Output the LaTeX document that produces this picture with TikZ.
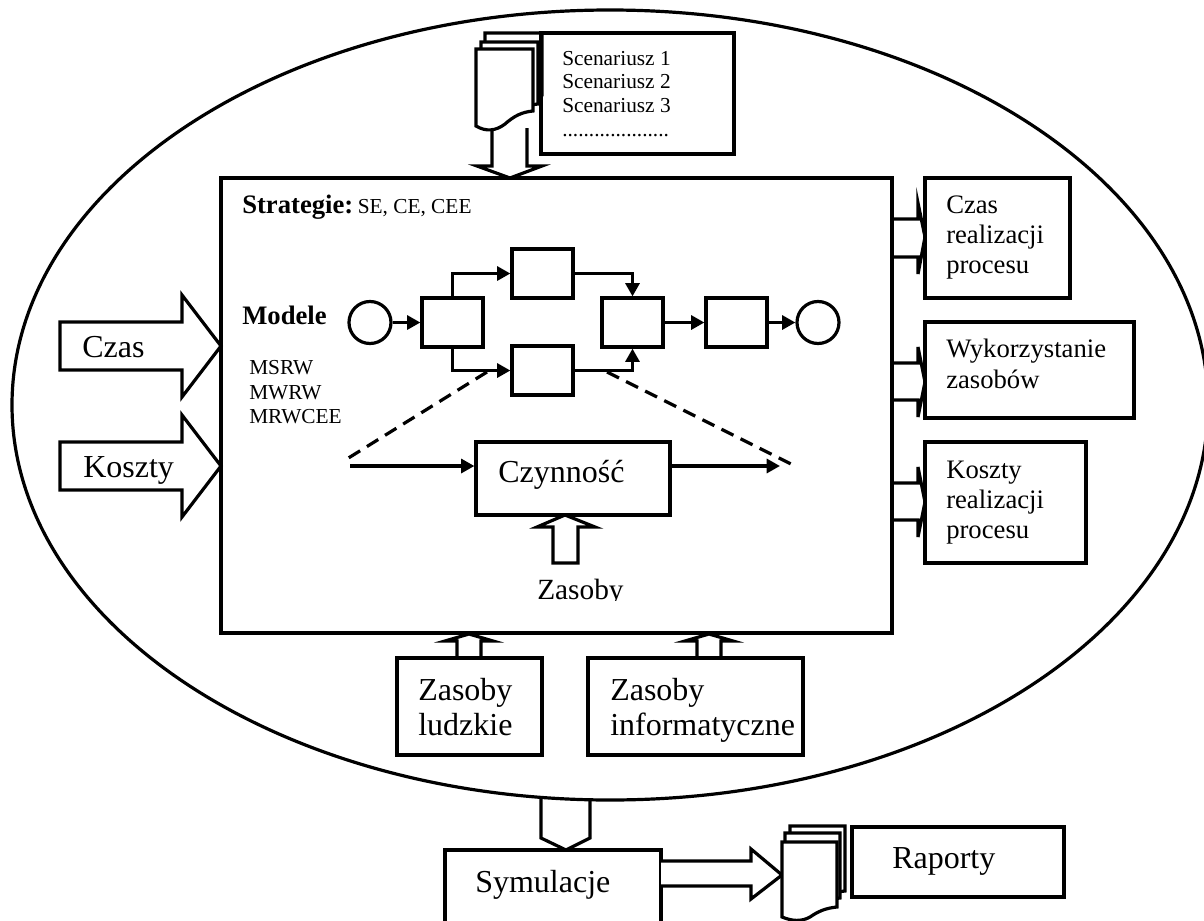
\documentclass[tikz,border=0pt]{standalone}
\usepackage{fontspec}
\setmainfont{Liberation Serif}
\usetikzlibrary{arrows.meta,fit}
\begin{document}
\begin{tikzpicture}[x=0.75pt,y=-0.75pt,
  lw/.style={line width=2.4pt},
  box/.style={draw,line width=2.4pt,inner sep=0pt},
  flow/.style={line width=2.4pt,-{Triangle[length=10pt,width=10.5pt]}},
  dashline/.style={line width=2.4pt,dash pattern=on 10pt off 6pt},
  hollow/.style={line width=2.4pt,fill=white},
  page/.style={line width=2.4pt,fill=white},
  t24/.style={anchor=base west,inner sep=0pt,font=\fontsize{24}{28}\selectfont},
  t22/.style={anchor=base west,inner sep=0pt,font=\fontsize{22}{26}\selectfont},
  t20/.style={anchor=base west,inner sep=0pt,font=\fontsize{20}{24}\selectfont},
  b20/.style={anchor=base west,inner sep=0pt,font=\fontsize{20}{24}\selectfont\bfseries},
  t16/.style={anchor=base west,inner sep=0pt,font=\fontsize{16}{19}\selectfont},
  circ/.style={draw,circle,line width=2.4pt,minimum size=31.5pt,inner sep=0pt}
]
\useasboundingbox (0,0) rectangle (1204,921);

% outer system boundary
\draw[lw] (610,405) ellipse [x radius=448.5pt, y radius=296.25pt];

% main model box
\node[box,fit={(221,178) (892,633)}] (main) {};

% scenario input: arrow, document stack, list
\draw[hollow] (492,128) -- (492,166) -- (477,166) -- (510,178) -- (542,166) -- (527,166) -- (527,128);
\foreach \dx/\dy in {9/-16,5/-7,0/0}{
  \draw[page,shift={(476+\dx,49+\dy)}] (0,0) -- (57,0) -- (57,62)
     .. controls (46,63) and (38,67) .. (29,75)
     .. controls (20,82) and (10,83) .. (0,77) -- cycle;
}
\node[box,fit={(541,33) (734,154)}] (scen) {};
\node[t16] (s1) at (562,65) {Scenariusz 1};
\node[t16] (s2) at (562,88) {Scenariusz 2};
\node[t16] (s3) at (562,112) {Scenariusz 3};
\node[t16] (s4) at (562,136) {....................};

% inputs on the left
\draw[hollow] (60,322) -- (182,322) -- (182,295) -- (221,346) -- (182,397) -- (182,370) -- (60,370) -- cycle;
\node[t24] (czas) at (82,357) {Czas};
\draw[hollow] (60,442) -- (182,442) -- (182,415) -- (221,466) -- (182,517) -- (182,490) -- (60,490) -- cycle;
\node[t24] (koszty) at (83,477) {Koszty};

% labels inside the model box
\node[anchor=base west,inner sep=0pt] (strat) at (242,213)
  {{\fontsize{20}{24}\selectfont\bfseries Strategie:} {\fontsize{16}{19}\selectfont SE, CE, CEE}};
\node[b20] (modele) at (242,324) {Modele};
\node[t16] (m1) at (249,374) {MSRW};
\node[t16] (m2) at (249,399) {MWRW};
\node[t16] (m3) at (249,423) {MRWCEE};

% process flow
\node[circ] (c1) at (370,322.5) {};
\node[box,fit={(422,298) (483,347)}] (b1) {};
\node[box,fit={(512,249) (573,298)}] (bt) {};
\node[box,fit={(512,346) (573,395)}] (bb) {};
\node[box,fit={(602,298) (663,347)}] (bm) {};
\node[box,fit={(706,298) (767,347)}] (b5) {};
\node[circ] (c2) at (818,322.5) {};
\draw[flow] (c1) -- (b1);
\draw[flow] (b1.north) |- (bt.west);
\draw[flow] (b1.south) |- (bb.west);
\draw[flow] (bt.east) -| (bm.north);
\draw[flow] (bb.east) -| (bm.south);
\draw[flow] (bm) -- (b5);
\draw[flow] (b5) -- (c2);

% detail of a single activity
\coordinate (dl1) at (487,372);
\coordinate (dl2) at (342,462);
\coordinate (dr1) at (607,372);
\coordinate (dr2) at (797,467);
\draw[dashline] (dl1) -- (dl2);
\draw[dashline] (dr1) -- (dr2);
\node[box,fit={(476,442) (670,515)}] (cz) {};
\node[t24] (czt) at (498,482) {Czynność};
\coordinate (czin) at (350,466);
\coordinate (czout) at (780,466);
\draw[flow] (czin) -- (cz.west |- czin);
\draw[flow] (cz.east |- czout) -- (czout);
\draw[hollow] (553,563) -- (553,527) -- (537,527) -- (565,515) -- (595,527) -- (578,527) -- (578,563) -- cycle;
\begin{scope}
  \clip (500,560) rectangle (660,600.5);
  \node[t22] (zas) at (537,599) {Zasoby};
\end{scope}

% outputs on the right
\draw[lw] (892,219) -- (918,219) -- (918,203) -- (925,237) -- (918,274) -- (918,257) -- (892,257);
\node[box,fit={(925,178) (1070,298)}] (o1) {};
\node[t20] (o1a) at (946,213) {Czas};
\node[t20] (o1b) at (946,243) {realizacji};
\node[t20] (o1c) at (946,273) {procesu};
\draw[lw] (892,363) -- (918,363) -- (918,347) -- (925,382) -- (918,417) -- (918,400) -- (892,400);
\node[box,fit={(925,322) (1134,418)}] (o2) {};
\node[t20] (o2a) at (946,357) {Wykorzystanie};
\node[t20] (o2b) at (946,388) {zasobów};
\draw[lw] (892,483) -- (918,483) -- (918,467) -- (925,502) -- (918,537) -- (918,520) -- (892,520);
\node[box,fit={(925,442) (1086,563)}] (o3) {};
\node[t20] (o3a) at (946,478) {Koszty};
\node[t20] (o3b) at (946,508) {realizacji};
\node[t20] (o3c) at (946,538) {procesu};

% resources below
\draw[lw] (457,658) -- (457,641) -- (445,641) -- (469,634) -- (493,641) -- (481,641) -- (481,658);
\node[box,fit={(397,658) (542,755)}] (zl) {};
\node[t24] (zla) at (418,700) {Zasoby};
\node[t24] (zlb) at (418,735) {ludzkie};
\draw[lw] (697,658) -- (697,641) -- (685,641) -- (709,634) -- (733,641) -- (721,641) -- (721,658);
\node[box,fit={(588,658) (803,755)}] (zi) {};
\node[t24] (zia) at (610,700) {Zasoby};
\node[t24] (zib) at (610,735) {informatyczne};

% simulation and reports
\draw[lw] (541,797) -- (541,838) -- (566,850) -- (590,838) -- (590,800);
\node[box,fit={(445,850) (661,940)}] (sym) {};
\node[t24] (symt) at (475,892) {Symulacje};
\draw[hollow] (661,861) -- (751,861) -- (751,849) -- (782,875) -- (751,899) -- (751,886) -- (661,886);
\foreach \dx/\dy in {8/-16,3/-9,0/0}{
  \draw[page,shift={(782+\dx,842+\dy)},xscale=0.965] (0,0) -- (57,0) -- (57,65)
     .. controls (46,66) and (38,69) .. (29,75)
     .. controls (20,80) and (10,79) .. (0,75) -- cycle;
}
\node[box,fit={(852,827) (1064,897)}] (rap) {};
\node[t24] (rapt) at (892,868) {Raporty};
\end{tikzpicture}
\end{document}
